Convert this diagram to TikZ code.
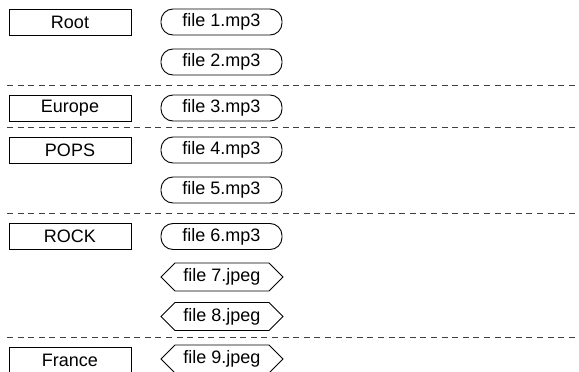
\documentclass[tikz,border=0pt]{standalone}
\usepackage{fontspec}
\setmainfont{Liberation Sans}
\usetikzlibrary{shapes.symbols}

\tikzset{
  dirbox/.style={draw, line width=0.9pt, minimum width=122pt, minimum height=26pt, inner sep=0pt},
  mpfile/.style={draw, line width=0.9pt, rounded corners=12pt, minimum width=121pt, minimum height=26pt, inner sep=0pt},
  jpgfile/.style={draw, line width=0.9pt, signal, signal to=west and east, minimum width=122pt, minimum height=28pt, inner sep=0pt},
  sepline/.style={line width=1pt, dash pattern=on 6pt off 4.6pt, black!75}
}

\begin{document}
\begin{tikzpicture}[x=1pt, y=-1pt, font=\fontsize{18}{21}\selectfont]
    \useasboundingbox (0,0) rectangle (579,372);
    % folders
    \foreach \dname/\y in {Root/22.5, Europe/108.5, POPS/150, ROCK/236.5, France/360}
        \node[dirbox] (\dname) at (70,\y) {\dname};
    % files
    \foreach \n/\y in {1/22, 2/62, 3/108, 4/150, 5/190, 6/236.5}
        \node[mpfile] (file\n) at (221.5,\y) {file \n.mp3};
    \foreach \n/\y in {7/277, 8/316.5, 9/359}
        \node[jpgfile] (file\n) at (222,\y) {file \n.jpeg};
    % separators
    \foreach \y in {85, 127, 213, 337}
        \draw[sepline] (7,\y) -- (579,\y);
\end{tikzpicture}
\end{document}
